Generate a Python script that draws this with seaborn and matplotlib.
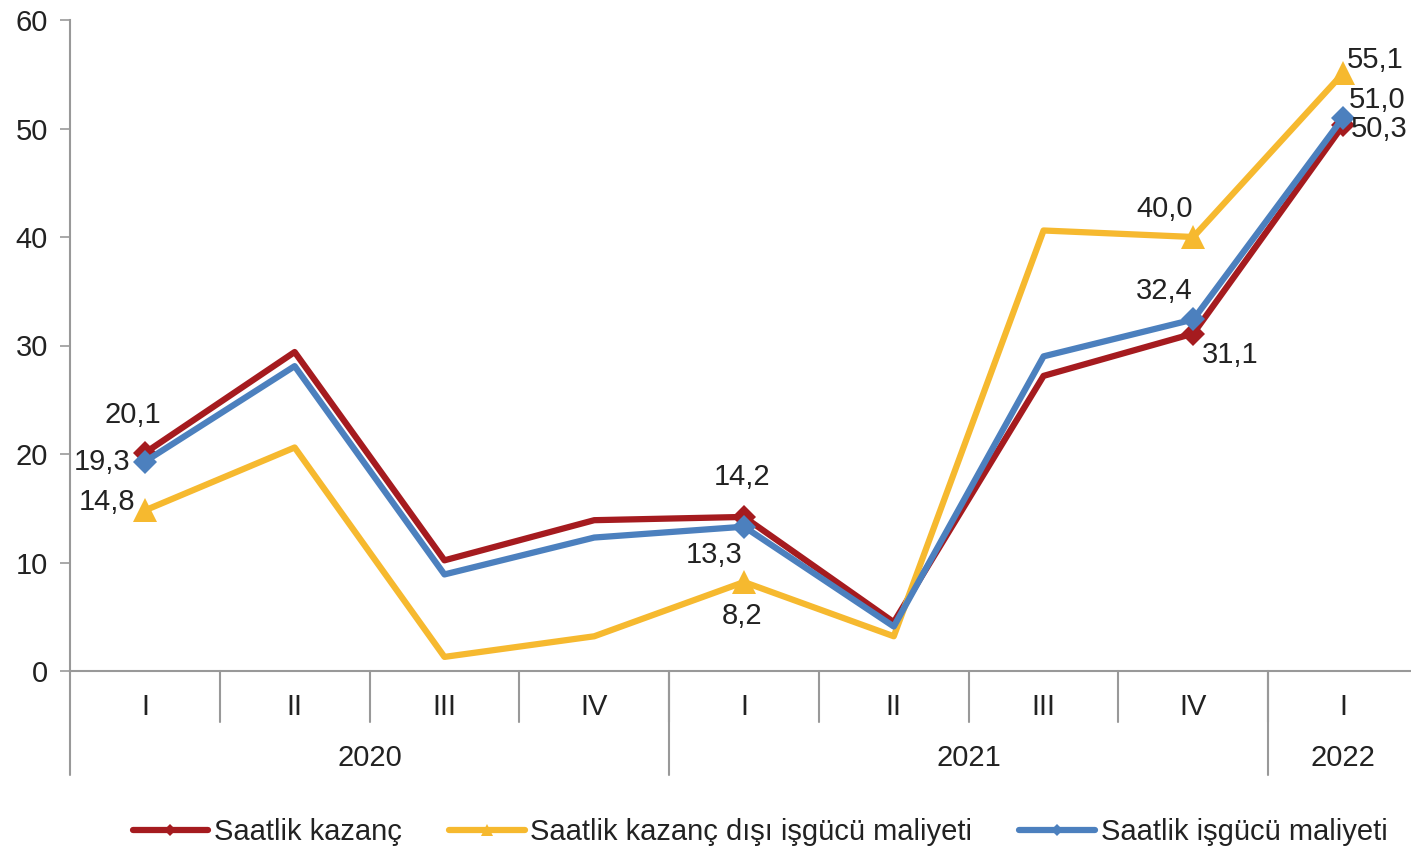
import matplotlib
matplotlib.use("Agg")
import matplotlib.pyplot as plt
import matplotlib.transforms as mtrans
import pandas as pd
import seaborn as sns

# quarters and yearly groups
quarters = ["I", "II", "III", "IV", "I", "II", "III", "IV", "I"]
years = ["2020", "2021", "2022"]
year_first = [0, 4, 8]
year_last = [3, 7, 8]

# annual change (%)
kazanc = [20.1, 29.4, 10.2, 13.9, 14.2, 4.5, 27.2, 31.1, 50.3]
kazanc_disi = [14.8, 20.6, 1.3, 3.2, 8.2, 3.2, 40.6, 40.0, 55.1]
isgucu = [19.3, 28.1, 8.9, 12.3, 13.3, 4.1, 29.0, 32.4, 51.0]

names = ["Saatlik kazanç", "Saatlik kazanç dışı işgücü maliyeti", "Saatlik işgücü maliyeti"]
colors = ["#A51B1F", "#F6B92F", "#4C80BE"]
markers = ["D", "^", "D"]
msizes = [12, 17, 12]
labeled = [0, 4, 7, 8]

# label offsets in pixels for each labeled point (dx, dy, ha)
offsets = [
    [(-12, 38, "center"), (-2, 40, "center"), (37, -21, "center"), (8, -4, "left")],
    [(-38, 8, "center"), (-2, -34, "center"), (-29, 28, "center"), (4, 13, "left")],
    [(-43, 0, "center"), (-30, -28, "center"), (-29, 28, "center"), (6, 18, "left")],
]

FS = 21
TXT = "#222222"

rows = []
for name, vals in zip(names, [kazanc, kazanc_disi, isgucu]):
    for i, v in enumerate(vals):
        rows.append({"seri": name, "pos": i, "deger": v})
df = pd.DataFrame(rows)

sns.set_style("white")
plt.rcParams["font.family"] = ["Liberation Sans", "DejaVu Sans"]

fig = plt.figure(figsize=(14.11, 8.52), dpi=100)
ax = fig.add_axes([70 / 1411, 1 - 671 / 852, 1348 / 1411, 651 / 852])

handles = []
for k, name in enumerate(names):
    sub = df[df["seri"] == name]
    sns.lineplot(data=sub, x="pos", y="deger", ax=ax, color=colors[k], linewidth=4.5,
                 marker=markers[k], markersize=msizes[k], markevery=labeled,
                 markeredgewidth=0, legend=False)
    handles.append(ax.lines[-1])
    for j, idx in enumerate(labeled):
        dx, dy, ha = offsets[k][j]
        v = sub["deger"].iloc[idx]
        ax.annotate(f"{v:.1f}".replace(".", ","), (idx, v), xytext=(dx, dy),
                    textcoords="offset pixels", ha=ha, va="center",
                    fontsize=FS, color=TXT, annotation_clip=False)

ax.set_xlim(-0.5, 8.5)
ax.set_ylim(0, 60)
ax.set_yticks(range(0, 61, 10))
ax.tick_params(axis="y", length=7, width=1.2, color="#999999", labelsize=FS,
               labelcolor=TXT, pad=9, left=True)
ax.set_xticks([])
ax.set_xlabel("")
ax.set_ylabel("")
for s in ["top", "right"]:
    ax.spines[s].set_visible(False)
for s in ["left", "bottom"]:
    ax.spines[s].set_color("#999999")
    ax.spines[s].set_linewidth(1.5)

# two-level category axis
trans = mtrans.blended_transform_factory(ax.transData, ax.transAxes)
row1 = -51 / 651
row2 = -104 / 651
for i, q in enumerate(quarters):
    ax.text(i, -36 / 651, q, transform=trans, ha="center", va="center",
            fontsize=FS, color=TXT)
    if i > 0:
        ax.plot([i - 0.5, i - 0.5], [0, row1], transform=trans, color="#999999",
                lw=1.5, clip_on=False)
for y, a, b in zip(years, year_first, year_last):
    ax.text((a + b) / 2, -87 / 651, y, transform=trans, ha="center", va="center",
            fontsize=FS, color=TXT)
    ax.plot([a - 0.5, a - 0.5], [0, row2], transform=trans, color="#999999",
            lw=1.5, clip_on=False)

fig.legend(handles, names, loc="center", bbox_to_anchor=(760 / 1411, 1 - 832 / 852),
           ncol=3, frameon=False, fontsize=FS, handlelength=2.6, handletextpad=0.2,
           columnspacing=1.6, markerscale=0.55, labelcolor=TXT)

fig.savefig("out.png", dpi=100)
